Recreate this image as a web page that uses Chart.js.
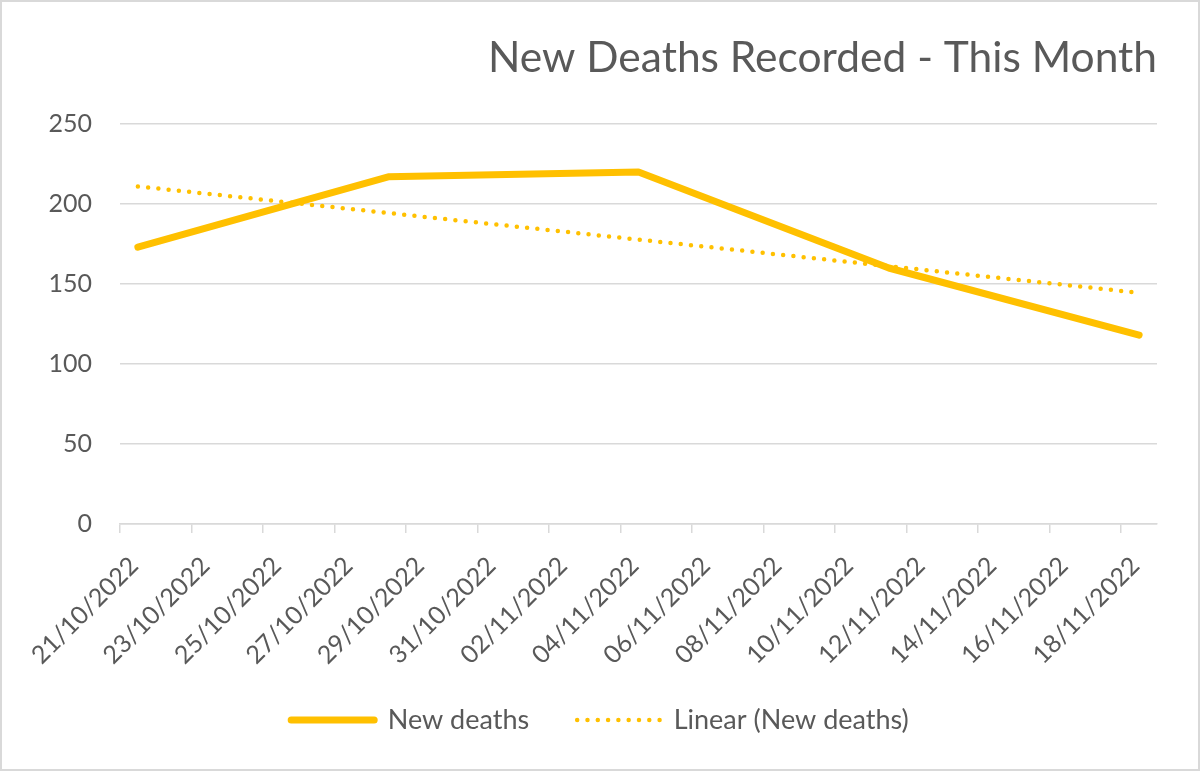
<!DOCTYPE html>
<html>
<head>
<meta charset="utf-8">
<script src="https://cdn.jsdelivr.net/npm/chart.js@4.4.1/dist/chart.umd.min.js"></script>
<style>
  html, body { margin: 0; padding: 0; background: #ffffff; }
  #wrap { position: relative; width: 1200px; height: 771px; background: #ffffff; }
  #frame { position: absolute; left: 0; top: 0; width: 1200px; height: 771px; box-sizing: border-box;
           border: 2px solid #d9d9d9; pointer-events: none; }
</style>
</head>
<body>
<div id="wrap">
  <canvas id="c" width="1200" height="771"></canvas>
  <div id="frame"></div>
</div>
<script>
// ---- data ----
const chartTitle = 'New Deaths Recorded - This Month';
const seriesName = 'New deaths';
const trendName = 'Linear (New deaths)';
const tickLabels = ['21/10/2022','23/10/2022','25/10/2022','27/10/2022','29/10/2022','31/10/2022',
                    '02/11/2022','04/11/2022','06/11/2022','08/11/2022','10/11/2022','12/11/2022',
                    '14/11/2022','16/11/2022','18/11/2022'];
const pointDates = ['21/10/2022','28/10/2022','04/11/2022','11/11/2022','18/11/2022'];
const newDeaths = [173, 217, 220, 160, 118];
const trendDates = ['21/10/2022','18/11/2022'];
const trendValues = [211, 144.5];
const yTicks = [0, 50, 100, 150, 200, 250];

// ---- helpers ----
function dayMs(s) {
  const [d, m, y] = s.split('/').map(Number);
  return Date.UTC(y, m - 1, d);
}
const origin = dayMs(tickLabels[0]);
function dayIndex(s) { return Math.round((dayMs(s) - origin) / 86400000); }
const lastDay = dayIndex(pointDates[pointDates.length - 1]) + 1;

const mainData = pointDates.map((d, i) => ({ x: dayIndex(d) + 0.5, y: newDeaths[i] }));
const trendData = trendDates.map((d, i) => ({ x: dayIndex(d) + 0.5, y: trendValues[i] }));

const textColor = '#595959';
const gridColor = '#d9d9d9';
const lineColor = '#FFC000';
const fontFamily = 'Lato, "Open Sans", sans-serif';

new Chart(document.getElementById('c'), {
  type: 'line',
  data: {
    datasets: [
      {
        label: seriesName,
        data: mainData,
        borderColor: lineColor,
        backgroundColor: lineColor,
        borderWidth: 7,
        borderCapStyle: 'round',
        borderJoinStyle: 'round',
        pointRadius: 0,
        pointHoverRadius: 0,
        tension: 0
      },
      {
        label: trendName,
        data: trendData,
        borderColor: lineColor,
        backgroundColor: lineColor,
        borderWidth: 4.5,
        borderDash: [0, 10.3],
        borderCapStyle: 'round',
        pointRadius: 0,
        pointHoverRadius: 0,
        tension: 0
      }
    ]
  },
  options: {
    responsive: false,
    animation: false,
    devicePixelRatio: 1,
    layout: { padding: { left: 0, right: 0, top: 0, bottom: 27.5 } },
    plugins: {
      tooltip: { enabled: false },
      title: {
        display: true,
        fullSize: false,
        text: chartTitle,
        align: 'end',
        color: textColor,
        font: { family: fontFamily, size: 42.5, weight: 'normal' },
        padding: { top: 33, bottom: 40 }
      },
      legend: {
        display: true,
        position: 'bottom',
        labels: {
          color: textColor,
          font: { family: fontFamily, size: 27 },
          usePointStyle: true,
          pointStyle: 'line',
          pointStyleWidth: 83,
          boxHeight: 27,
          padding: 48,
          generateLabels: (chart) => chart.data.datasets.map((ds, i) => ({
            text: ds.label,
            datasetIndex: i,
            hidden: false,
            fontColor: textColor,
            fillStyle: ds.borderColor,
            strokeStyle: ds.borderColor,
            lineWidth: ds.borderWidth,
            lineDash: ds.borderDash || [],
            lineDashOffset: 0,
            lineCap: ds.borderCapStyle || 'butt',
            lineJoin: 'round',
            pointStyle: 'line',
            rotation: 0
          }))
        }
      }
    },
    scales: {
      x: {
        type: 'linear',
        min: 0,
        max: lastDay,
        afterBuildTicks: (axis) => { axis.ticks = tickLabels.map(l => ({ value: dayIndex(l) })); },
        afterFit: (axis) => {
          axis.height = 134.5;
          axis._computeLabelArea = () => undefined;
        },
        grid: { drawOnChartArea: false, drawTicks: true, tickLength: 9, color: gridColor, lineWidth: 1.5 },
        border: { display: true, color: gridColor, width: 1.5 },
        ticks: {
          autoSkip: false,
          minRotation: 45,
          maxRotation: 45,
          padding: 18,
          labelOffset: 14,
          color: textColor,
          font: { family: fontFamily, size: 25 },
          callback: (v, i) => tickLabels[i]
        }
      },
      y: {
        min: 0,
        max: 250,
        afterBuildTicks: (axis) => { axis.ticks = yTicks.map(v => ({ value: v })); },
        afterFit: (axis) => { axis.width = 120; },
        grid: { drawTicks: false, color: gridColor, lineWidth: 1.5 },
        border: { display: false },
        ticks: {
          padding: 28,
          color: textColor,
          font: { family: fontFamily, size: 25 }
        }
      },
      yRight: {
        position: 'right',
        display: true,
        afterFit: (axis) => { axis.width = 43; },
        grid: { display: false, drawTicks: false },
        border: { display: false },
        ticks: { display: false }
      }
    }
  }
});
</script>
</body>
</html>
